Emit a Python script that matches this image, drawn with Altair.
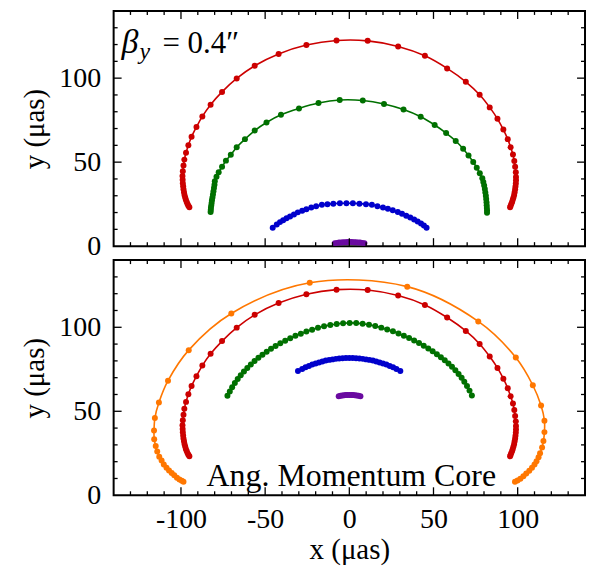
import altair as alt
import pandas as pd

# ---------------- data ----------------
red_x = [-95.0, -95.6, -96.1, -96.6, -97.1, -97.5, -97.9, -98.2, -98.5, -98.7, -98.9, -99.0, -99.1,
         -98.9, -98.5, -98.0, -97.0, -95.6, -93.7, -90.8, -87.3, -82.4, -75.6, -66.9, -56.2, -42.0, -25.5, -7.6,
         10.9, 29.0, 44.9, 58.1, 69.2, 77.4, 83.4, 88.0, 91.5, 94.1, 95.8, 97.2, 98.0, 98.5, 98.9,
         99.0, 99.0, 98.9, 98.7, 98.5, 98.2, 97.9, 97.5, 97.1, 96.7, 96.2, 95.8, 95.5]
red_y = [23.2, 24.1, 25.1, 26.3, 27.6, 29.0, 30.5, 32.1, 33.8, 35.6, 37.5, 39.5, 41.7,
         44.6, 48.0, 51.5, 55.6, 60.1, 65.1, 70.9, 77.2, 84.2, 91.8, 99.8, 107.4, 114.4, 119.7, 122.4,
         122.2, 118.9, 113.3, 105.8, 97.8, 90.1, 82.6, 75.8, 69.4, 63.7, 58.9, 54.6, 50.7, 47.2, 44.0,
         41.2, 39.2, 37.3, 35.5, 33.8, 32.1, 30.5, 29.0, 27.6, 26.3, 25.1, 24.1, 23.2]

green_top_x = [-82.4, -82.3, -82.2, -82.0, -81.8, -81.6, -81.3, -81.0, -80.7, -80.4, -80.1, -79.9,
               -78.9, -77.6, -75.6, -73.3, -70.4, -66.9, -62.0, -56.2, -49.2, -40.6, -29.9, -18.3, -5.7,
               8.0, 20.6, 32.2, 42.4, 50.7, 57.5, 63.2, 67.6, 70.8, 73.6, 75.7, 77.5, 79.0,
               79.6, 80.1, 80.5, 80.8, 81.1, 81.3, 81.5, 81.6, 81.7, 81.8, 81.8]
green_top_y = [20.3, 21.5, 22.8, 24.2, 25.7, 27.3, 29.0, 30.8, 32.7, 34.6, 36.6, 38.6,
               41.3, 44.0, 47.2, 50.9, 54.4, 58.9, 63.7, 68.8, 73.6, 78.2, 82.0, 85.2, 87.0,
               86.7, 84.6, 81.3, 77.0, 72.1, 67.3, 62.6, 58.0, 53.9, 50.1, 46.6, 43.4, 40.4,
               38.2, 36.1, 34.0, 32.0, 30.0, 28.1, 26.2, 24.4, 22.7, 21.2, 19.9]

blue_top_x = [-45.5, -43.1, -41.2, -39.3, -37.3, -35.2, -32.9, -30.6, -28.0, -25.5, -22.6, -19.7, -16.3,
              -13.0, -9.5, -5.6, -1.7, 2.1, 6.0, 9.9, 13.4, 16.7, 20.0, 22.9, 25.8, 28.8, 31.3, 33.8,
              36.2, 38.5, 40.6, 42.6, 44.3, 45.9]
blue_top_y = [10.9, 12.9, 14.3, 15.4, 16.6, 17.7, 18.9, 20.1, 21.1, 22.0, 23.0, 23.8, 24.6,
              25.0, 25.3, 25.5, 25.5, 25.5, 25.3, 25.0, 24.6, 23.8, 23.0, 22.2, 21.3, 20.3, 19.3, 18.1,
              17.0, 15.8, 14.6, 13.5, 12.3, 10.9]

purple_top_x = [-8.6, -7.3, -6.1, -4.8, -3.6, -2.3, -1.1, 0.2, 1.4, 2.7, 3.9, 5.2, 6.4, 7.7, 9.0]
purple_top_y = [1.8, 1.95, 2.1, 2.2, 2.3, 2.35, 2.4, 2.4, 2.4, 2.35, 2.3, 2.2, 2.1, 1.95, 1.8]

orange_x = [-98.5, -99.5, -100.9, -102.4, -104.0, -105.5, -107.1, -108.6, -110.2, -111.5, -112.9, -114.1,
            -115.0, -115.9, -116.0, -115.5, -113.1, -107.7, -95.4, -70.1, -23.5,
            34.4, 76.6, 98.9, 109.0, 113.9, 115.9, 115.9, 115.3, 114.5, 113.3, 112.4, 111.2, 110.0,
            108.5, 106.9, 105.1, 103.4, 101.6, 99.9, 98.4]
orange_y = [8.0, 8.6, 9.4, 10.5, 11.9, 13.3, 14.8, 16.4, 18.3, 20.7, 23.0, 26.1,
            29.4, 33.3, 38.6, 46.0, 55.2, 68.2, 86.4, 108.2, 126.5,
            124.2, 103.5, 82.0, 65.5, 53.4, 44.4, 37.6, 32.3, 28.5, 25.0, 22.6, 20.3, 18.3,
            16.4, 14.6, 12.9, 11.3, 9.9, 8.8, 8.0]

green_bot_x = [-72.4, -71.0, -69.6, -68.0, -66.3, -64.5, -62.6, -60.6, -58.5, -56.3, -54.0, -51.6, -49.1,
               -46.5, -43.8, -41.0, -38.1, -35.1, -32.0, -28.8, -25.5, -22.1, -18.6, -15.0, -11.3, -7.5,
               -3.7, 0.2, 4.1, 7.9, 11.7, 15.4, 19.0, 22.5, 25.9, 29.2, 32.4, 35.5, 38.5, 41.4, 44.2,
               46.9, 49.5, 52.0, 54.4, 56.7, 58.9, 61.0, 63.0, 64.9, 66.7, 68.3, 69.9, 71.4, 72.8]
green_bot_y = [59.2, 61.8, 64.3, 66.8, 69.2, 71.5, 73.7, 75.8, 77.9, 79.9, 81.8, 83.7, 85.5,
               87.2, 88.9, 90.5, 92.0, 93.5, 94.9, 96.2, 97.5, 98.6, 99.7, 100.6, 101.4, 102.0,
               102.4, 102.6, 102.5, 102.1, 101.5, 100.7, 99.8, 98.7, 97.6, 96.3, 95.0, 93.6, 92.1, 90.6, 89.0,
               87.4, 85.7, 84.0, 82.2, 80.4, 78.5, 76.5, 74.4, 72.2, 70.0, 67.6, 65.0, 62.3, 59.4]

blue_bot_x = [-30.5, -28, -26, -24, -22, -20, -18, -16, -14, -12, -10, -8, -6, -4, -2, 0,
              2, 4, 6, 8, 10, 12, 14, 16, 18, 20, 22, 24, 26, 28, 30.3]
blue_bot_y = [74.0, 75.2, 76.2, 77.0, 77.8, 78.5, 79.1, 79.7, 80.2, 80.6, 80.9, 81.2, 81.4, 81.6, 81.7, 81.7,
              81.7, 81.6, 81.4, 81.2, 80.9, 80.6, 80.2, 79.7, 79.1, 78.5, 77.8, 77.0, 76.2, 75.2, 74.0]

purple_bot_x = [-6.3, -5.2, -4.2, -3.1, -2.0, -1.0, 0.1, 1.2, 2.2, 3.3, 4.4, 5.5, 6.6]
purple_bot_y = [59.0, 59.2, 59.4, 59.55, 59.65, 59.7, 59.75, 59.7, 59.65, 59.55, 59.4, 59.2, 59.0]

x_label_values = [-100, -50, 0, 50, 100]
y_label_values = [0, 50, 100]
x_minor_ticks = [-130, -120, -110, -90, -80, -70, -60, -40, -30, -20, -10,
                 10, 20, 30, 40, 60, 70, 80, 90, 110, 120, 130]
y_minor_ticks = [10, 20, 30, 40, 60, 70, 80, 90, 110, 120, 130]
x_major_ticks = [-100, -50, 0, 50, 100]
y_major_ticks = [50, 100]

series_colors = {
    "purple": "#6a0aa0",
    "blue": "#0000cc",
    "green": "#007000",
    "red": "#cc0000",
    "orange": "#ff7700",
}

# ---------------- helpers ----------------
def make_df(items):
    rows = []
    for name, xs, ys in items:
        assert len(xs) == len(ys), name
        for i, (a, b) in enumerate(zip(xs, ys)):
            rows.append({"series": name, "i": i, "x": a, "y": b})
    return pd.DataFrame(rows)


top_df = make_df([("red", red_x, red_y), ("green", green_top_x, green_top_y),
                  ("blue", blue_top_x, blue_top_y), ("purple", purple_top_x, purple_top_y)])
bot_df = make_df([("orange", orange_x, orange_y), ("red", red_x, red_y),
                  ("green", green_bot_x, green_bot_y), ("blue", blue_bot_x, blue_bot_y),
                  ("purple", purple_bot_x, purple_bot_y)])

W, H = 473, 236
FONT = "Liberation Serif"
xsc = alt.Scale(domain=[-140, 140], nice=False, zero=False)
ysc = alt.Scale(domain=[0, 140], nice=False, zero=False)
color = alt.Color("series:N",
                  scale=alt.Scale(domain=list(series_colors), range=list(series_colors.values())),
                  legend=None)

label_expr = "datum.value < 0 ? '-' + format(abs(datum.value), 'd') : format(datum.value, 'd')"

common_axis = dict(ticks=False, tickSize=0, domain=False, grid=False,
                   labelFont=FONT, labelFontSize=28, labelColor="black",
                   titleFont=FONT, titleFontSize=29, titleFontWeight="normal", titleColor="black",
                   labelFlush=False, labelOverlap=False, labelExpr=label_expr)

x_axis = alt.Axis(values=x_label_values, title="x (μas)", labelPadding=10, titlePadding=2, **common_axis)
y_axis = alt.Axis(values=y_label_values, title="y (μas)", labelPadding=13, titlePadding=9, **common_axis)


def tick_layers(X, Y):
    out = []
    for vals, L in ((x_major_ticks, 8), (x_minor_ticks, 4)):
        d = pd.DataFrame({"x": vals})
        out.append(alt.Chart(d).mark_rule(color="black", strokeWidth=1.3).encode(
            x=X, y=alt.value(H), y2=alt.value(H - L)))
        out.append(alt.Chart(d).mark_rule(color="black", strokeWidth=1.3).encode(
            x=X, y=alt.value(0), y2=alt.value(L)))
    for vals, L in ((y_major_ticks, 8), (y_minor_ticks, 4)):
        d = pd.DataFrame({"y": vals})
        out.append(alt.Chart(d).mark_rule(color="black", strokeWidth=1.3).encode(
            y=Y, x=alt.value(0), x2=alt.value(L)))
        out.append(alt.Chart(d).mark_rule(color="black", strokeWidth=1.3).encode(
            y=Y, x=alt.value(W), x2=alt.value(W - L)))
    return out


def panel(df, show_x, extra):
    X = alt.X("x:Q", scale=xsc, axis=x_axis if show_x else None)
    Y = alt.Y("y:Q", scale=ysc, axis=y_axis)
    base = alt.Chart(df)
    lines = base.mark_line(strokeWidth=1.6, interpolate="catmull-rom").encode(
        x=X, y=Y, color=color, order=alt.Order("i:Q"), detail="series:N")
    dots = base.mark_circle(size=36, opacity=1).encode(x=X, y=Y, color=color)
    return alt.layer(lines, dots, *tick_layers(X, Y), *extra).properties(width=W, height=H)


def text_layer(txt, px, py, size, style="normal", align="left"):
    d = pd.DataFrame({"t": [txt]})
    return alt.Chart(d).mark_text(font=FONT, fontSize=size, fontStyle=style, align=align,
                                  baseline="alphabetic", color="black").encode(
        text="t:N", x=alt.value(px), y=alt.value(py))


top_ann = [
    text_layer("β", 8, 42, 34, "italic"),
    text_layer("y", 26, 48, 24, "italic"),
    text_layer("= 0.4″", 49, 42, 31),
]
bot_ann = [text_layer("Ang. Momentum Core", W / 2 + 2, H - 9, 32, align="center")]

top = panel(top_df, False, top_ann)
bottom = panel(bot_df, True, bot_ann)

chart = alt.vconcat(top, bottom, spacing=14, bounds="flush").properties(
    padding={"left": 12, "top": 0, "right": 1, "bottom": 0},
    background="white",
).configure_view(stroke="black", strokeWidth=2)

chart.save("out.html", embed_options={"renderer": "svg", "actions": False})
